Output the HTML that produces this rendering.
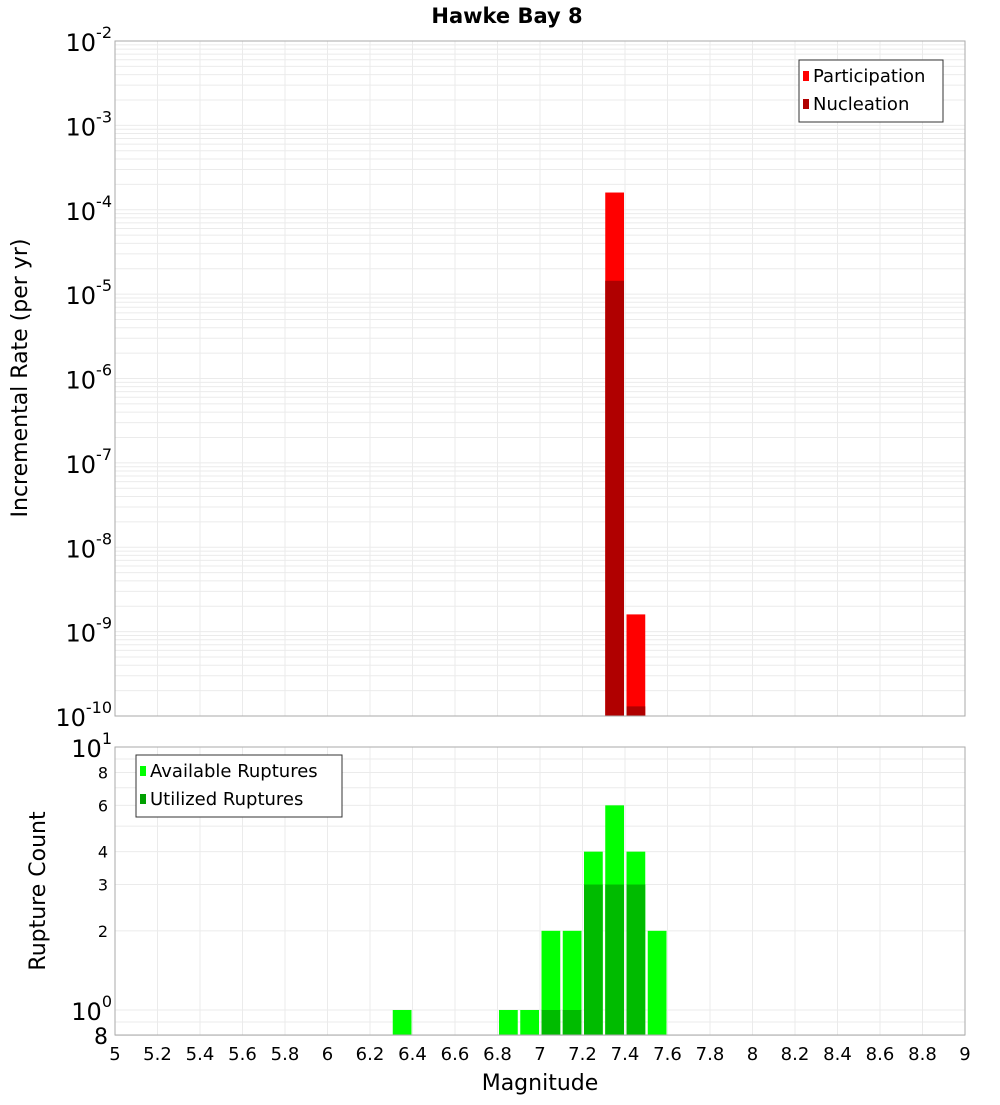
<!DOCTYPE html>
<html><head><meta charset="utf-8"><style>
body{margin:0;background:#fff;font-family:"Liberation Sans","DejaVu Sans",sans-serif}
svg text{font-family:"DejaVu Sans","Liberation Sans",sans-serif}
</style></head><body>
<svg id="c" width="1000" height="1100" xmlns="http://www.w3.org/2000/svg">
<text x="507" y="23" font-size="21" font-weight="bold" text-anchor="middle">Hawke Bay 8</text>
<text transform="translate(27,378) rotate(-90)" font-size="22" text-anchor="middle">Incremental Rate (per yr)</text>
<text transform="translate(45,891) rotate(-90)" font-size="22" text-anchor="middle">Rupture Count</text>
<text x="540" y="1090" font-size="22" text-anchor="middle">Magnitude</text>
<g id="g"></g>
</svg>
<script>
const mags=[6.35,6.85,6.95,7.05,7.15,7.25,7.35,7.45,7.55];
const partMags=[7.35,7.45];
const partVals=[1.6e-4,1.6e-9];
const nuclVals=[1.44e-5,1.3e-10];
const availVals=[1,1,1,2,2,4,6,4,2];
const utilMags=[7.05,7.15,7.25,7.35,7.45];
const utilVals=[1,1,3,3,3];
const xTicks=[5,5.2,5.4,5.6,5.8,6,6.2,6.4,6.6,6.8,7,7.2,7.4,7.6,7.8,8,8.2,8.4,8.6,8.8,9];
const countTicks=[2,3,4,6,8];

const NS='http://www.w3.org/2000/svg';
const g=document.getElementById('g');
const X0=115,X1=965;
const x=m=>X0+(m-5)/4*(X1-X0);
const T0=41,T1=716;
const yT=v=>T0+(-2-Math.log10(v))/8*(T1-T0);
const B0=747,B1=1035;
const yB=v=>B0+(1-Math.log10(v))*263;
function el(t,a,p){const e=document.createElementNS(NS,t);for(const k in a)e.setAttribute(k,a[k]);(p||g).appendChild(e);return e;}

// top grid
for(let d=-10;d<-2;d++)for(let k=1;k<10;k++){const y=yT(k*Math.pow(10,d));
const l=el('line',{x1:X0,x2:X1,y1:y,y2:y,stroke:'#ebebeb','stroke-width':1});

}
// bottom grid
for(const v of [0.8,0.9,1,2,3,4,5,6,7,8,9,10]){const y=yB(v);
const l=el('line',{x1:X0,x2:X1,y1:y,y2:y,stroke:'#ebebeb','stroke-width':1});

}
for(const t of xTicks){const xx=x(t);
const l1=el('line',{x1:xx,x2:xx,y1:T0,y2:T1,stroke:'#ebebeb'});


const l2=el('line',{x1:xx,x2:xx,y1:B0,y2:B1,stroke:'#ebebeb'});


const tx=el('text',{x:xx,y:1060,'font-size':18,'text-anchor':'middle'});tx.textContent=String(t);

}

// top bars
partMags.forEach((m,i)=>{
const r=el('rect',{x:x(m-0.05)+1.5,width:x(m+0.05)-x(m-0.05)-2.5,y:yT(partVals[i]),height:T1-yT(partVals[i]),fill:'#ff0000'});


const n=el('rect',{x:x(m-0.05)+1.5,width:x(m+0.05)-x(m-0.05)-2.5,y:yT(nuclVals[i]),height:T1-yT(nuclVals[i]),fill:'#b00000'});

});
// bottom bars
mags.forEach((m,i)=>{
const r=el('rect',{x:x(m-0.05)+1.5,width:x(m+0.05)-x(m-0.05)-2.5,y:yB(availVals[i]),height:B1-yB(availVals[i]),fill:'#00ff00'});

});
utilMags.forEach((m,i)=>{
const r=el('rect',{x:x(m-0.05)+1.5,width:x(m+0.05)-x(m-0.05)-2.5,y:yB(utilVals[i]),height:B1-yB(utilVals[i]),fill:'#00bb00'});

});

// frames
const f1=el('rect',{x:X0,y:T0,width:X1-X0,height:T1-T0,fill:'none',stroke:'#aaa'});


const f2=el('rect',{x:X0,y:B0,width:X1-X0,height:B1-B0,fill:'none',stroke:'#aaa'});



// top y labels
for(let d=-10;d<=-2;d++){const y=yT(Math.pow(10,d));
const t=el('text',{x:112,y:y+10,'font-size':24,'text-anchor':'end'});
t.innerHTML='10<tspan dy="-13" font-size="16">'+d+'</tspan>';

}
// bottom y labels
for(const [v,e] of [[10,1],[1,0]]){const t=el('text',{x:112,y:yB(v)+10,'font-size':24,'text-anchor':'end'});
t.innerHTML='10<tspan dy="-13" font-size="16">'+e+'</tspan>';

}
for(const v of countTicks){const t=el('text',{x:108,y:yB(v)+6,'font-size':16,'text-anchor':'end'});t.textContent=v;

}
const t8=el('text',{x:108,y:1044,'font-size':22,'text-anchor':'end'});t8.textContent='8';



// legends
function legend(x0,y0,w,items,name){const lg=el('g',{});


el('rect',{x:x0,y:y0,width:w,height:items.length*28+6,fill:'#fff',stroke:'#333'},lg);
items.forEach((it,i)=>{el('rect',{x:x0+4,y:y0+11+i*28,width:6,height:10,fill:it[1]},lg);
const t=el('text',{x:x0+14,y:y0+22+i*28,'font-size':18},lg);t.textContent=it[0];});}
legend(799,60,144,[['Participation','#ff0000'],['Nucleation','#b00000']],'top-legend');
legend(136,755,206,[['Available Ruptures','#00ff00'],['Utilized Ruptures','#00a000']],'bottom-legend');
</script>
</body></html>
